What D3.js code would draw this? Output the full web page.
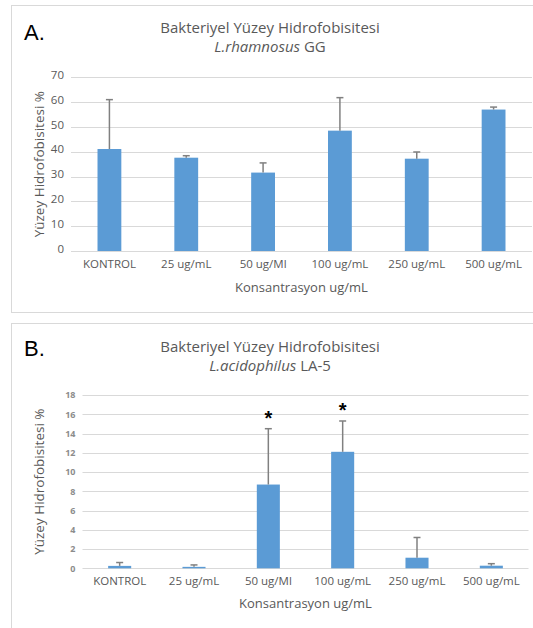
<!DOCTYPE html>
<html><head><meta charset="utf-8">
<script src="https://cdn.jsdelivr.net/npm/d3@7"></script>
<style>html,body{margin:0;padding:0;background:#fff}</style>
</head><body>
<svg id="chart" width="533" height="628"></svg>
<script>
const categories = ["KONTROL", "25 ug/mL", "50 ug/Ml", "100 ug/mL", "250 ug/mL", "500 ug/mL"];
const rhamnosusMeans = [41.1, 37.6, 31.6, 48.5, 37.2, 57.0];
const rhamnosusErrors = [19.9, 0.8, 3.9, 13.3, 2.7, 1.0];
const acidophilusMeans = [0.25, 0.15, 8.7, 12.1, 1.1, 0.27];
const acidophilusErrors = [0.35, 0.2, 5.8, 3.2, 2.1, 0.21];
const acidophilusMarks = ["", "", "*", "*", "", ""];
const ticksA = [0, 10, 20, 30, 40, 50, 60, 70];
const ticksB = [0, 2, 4, 6, 8, 10, 12, 14, 16, 18];

const svg = d3.select("#chart");
const FONT = "'Open Sans', 'Liberation Sans', sans-serif";
const BAR = "#5b9bd5", GRID = "#d9d9d9", TXT = "#595959", ERR = "#808080";

function panel(cfg) {
  const g = svg.append("g");
  g.append("rect").attr("x", 11.5).attr("y", cfg.boxTop + 0.5)
    .attr("width", 530).attr("height", cfg.boxH)
    .attr("fill", "none").attr("stroke", GRID).attr("stroke-width", 1);
  g.append("text").attr("x", 24).attr("y", cfg.letterY)
    .attr("font-family", "'Liberation Sans', Arial, sans-serif").attr("font-size", 22)
    .attr("fill", "#000").text(cfg.letter);
  g.append("text").attr("x", 270).attr("y", cfg.titleY).attr("text-anchor", "middle")
    .attr("font-family", FONT).attr("font-size", 15).attr("fill", TXT)
    .text("Bakteriyel Yüzey Hidrofobisitesi");
  const t2 = g.append("text").attr("x", 270).attr("y", cfg.titleY + 19).attr("text-anchor", "middle")
    .attr("font-family", FONT).attr("font-size", 15).attr("fill", TXT);
  t2.append("tspan").attr("font-style", "italic").text(cfg.species);
  t2.append("tspan").text(" " + cfg.strain);

  const x = d3.scaleBand().domain(categories).range(cfg.xRange)
    .paddingInner(0.69).paddingOuter(0.345);
  const y = d3.scaleLinear().domain(cfg.domain).range(cfg.yRange);

  g.append("g").selectAll("line").data(cfg.ticks).join("line")
    .attr("x1", cfg.xRange[0]).attr("x2", cfg.xRange[1])
    .attr("y1", d => Math.round(y(d)) + 0.5).attr("y2", d => Math.round(y(d)) + 0.5)
    .attr("stroke", GRID).attr("stroke-width", 1);

  const ya = g.append("g").attr("transform", `translate(${cfg.xRange[0] - 6},0)`)
    .call(d3.axisLeft(y).tickValues(cfg.ticks).tickSize(0).tickPadding(1));
  ya.select(".domain").remove();
  ya.selectAll("text").attr("font-family", FONT).attr("font-size", cfg.tickFont)
    .attr("font-weight", cfg.tickWeight).attr("fill", cfg.tickColor).attr("dy", cfg.tickDy);

  const xa = g.append("g").attr("transform", `translate(0,${cfg.yRange[0]})`)
    .call(d3.axisBottom(x).tickSize(0).tickPadding(cfg.xPad));
  xa.select(".domain").remove();
  xa.selectAll("text").attr("font-family", FONT).attr("font-size", 11.5).attr("fill", TXT);

  g.append("g").selectAll("rect").data(cfg.means).join("rect")
    .attr("x", (d, i) => x(categories[i])).attr("width", x.bandwidth())
    .attr("y", d => y(d)).attr("height", d => y(0) - y(d))
    .attr("fill", BAR);

  const eg = g.append("g").attr("stroke", ERR).attr("stroke-width", 1.5);
  cfg.means.forEach((m, i) => {
    const cx = x(categories[i]) + x.bandwidth() / 2;
    const top = y(m + cfg.errors[i]);
    eg.append("line").attr("x1", cx).attr("x2", cx).attr("y1", y(m)).attr("y2", top);
    eg.append("line").attr("x1", cx - 3.5).attr("x2", cx + 3.5).attr("y1", top).attr("y2", top);
  });

  if (cfg.marks) {
    g.append("g").selectAll("text").data(cfg.marks).join("text")
      .attr("x", (d, i) => x(categories[i]) + x.bandwidth() / 2)
      .attr("y", (d, i) => y(cfg.means[i] + cfg.errors[i]) - 4)
      .attr("text-anchor", "middle").attr("font-family", "'Liberation Sans', Arial, sans-serif")
      .attr("font-size", 20).attr("font-weight", "bold").attr("fill", "#000")
      .text(d => d);
  }

  const ymid = (cfg.yRange[0] + cfg.yRange[1]) / 2;
  g.append("text").attr("transform", `translate(44,${ymid}) rotate(-90)`)
    .attr("text-anchor", "middle").attr("font-family", FONT).attr("font-size", 13.5)
    .attr("fill", TXT).text("Yüzey Hidrofobisitesi %");
  g.append("text").attr("x", (cfg.xRange[0] + cfg.xRange[1]) / 2).attr("y", cfg.xTitleY)
    .attr("text-anchor", "middle").attr("font-family", FONT).attr("font-size", 13)
    .attr("fill", TXT).text("Konsantrasyon ug/mL");
  return g;
}

panel({
  boxTop: 5, boxH: 307, letter: "A.", letterY: 40, titleY: 33,
  species: "L.rhamnosus", strain: "GG",
  xRange: [71, 532], domain: [0, 70], yRange: [251, 77.3], ticks: ticksA,
  tickFont: 11.5, tickWeight: "normal", tickColor: TXT, tickDy: "0.1em", xPad: 9,
  means: rhamnosusMeans, errors: rhamnosusErrors, marks: null, xTitleY: 292
});

panel({
  boxTop: 323, boxH: 320, letter: "B.", letterY: 356, titleY: 352,
  species: "L.acidophilus", strain: "LA-5",
  xRange: [82.5, 528.5], domain: [0, 18], yRange: [568.3, 395], ticks: ticksB,
  tickFont: 9, tickWeight: "bold", tickColor: "#8c8c8c", tickDy: "0.32em", xPad: 9,
  means: acidophilusMeans, errors: acidophilusErrors, marks: acidophilusMarks, xTitleY: 608
});
</script>
</body></html>
